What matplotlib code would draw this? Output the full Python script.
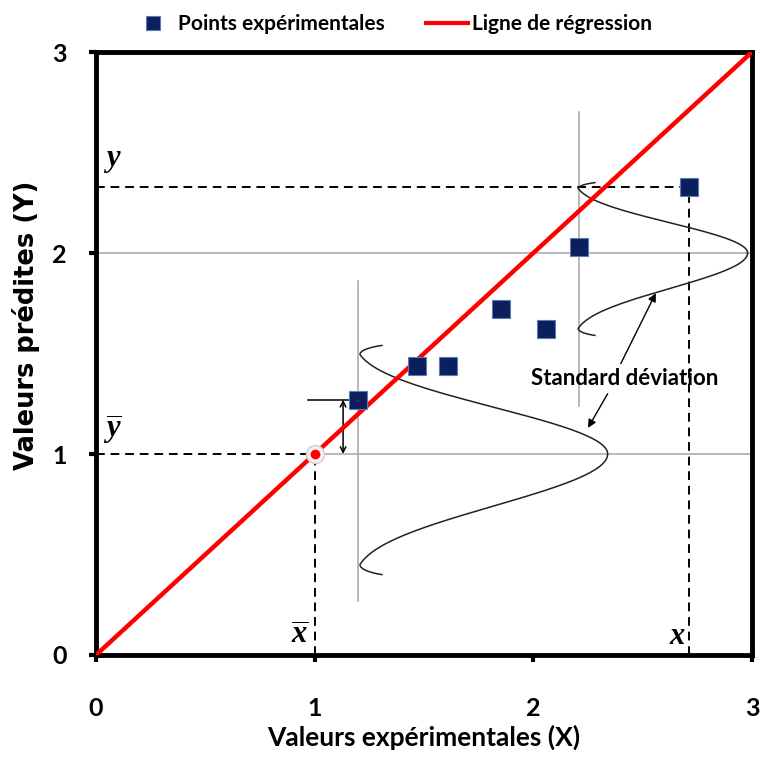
import numpy as np
import matplotlib
matplotlib.use("Agg")
import matplotlib.pyplot as plt
from matplotlib.lines import Line2D

plt.rcParams['font.family'] = ['Lato', 'DejaVu Sans']
plt.rcParams['font.weight'] = 'bold'
plt.rcParams['mathtext.fontset'] = 'custom'
plt.rcParams['mathtext.it'] = 'Liberation Serif:italic:bold'
plt.rcParams['mathtext.rm'] = 'Liberation Serif:bold'

# ---- data ----
exp_x = [1.20, 1.47, 1.61, 1.85, 2.06, 2.21, 2.71]
exp_y = [1.27, 1.44, 1.44, 1.72, 1.62, 2.03, 2.33]
reg_x = [0, 3]
reg_y = [0, 3]
mean_x, mean_y = 1.0, 1.0
pt_x, pt_y = 2.71, 2.33
xticks = [0, 1, 2, 3]
yticks = [0, 1, 2, 3]

# schematic distribution curves: base x, peak x, centre y, top half-height, bottom half-height, hook
bell1 = dict(base=1.185, peak=2.34, yc=1.0, htop=0.54, hbot=0.60, hook=0.12)
bell2 = dict(base=2.19, peak=2.98, yc=2.0, htop=0.35, hbot=0.41, hook=0.09)
vline1 = (1.20, 0.27, 1.86)
vline2 = (2.21, 1.24, 2.70)

fig = plt.figure(figsize=(7.67, 7.58), dpi=100)
ax = fig.add_axes([96/767, 1-655/758, 656/767, 603/758])
ax.set_xlim(0, 3)
ax.set_ylim(0, 3)

grey = '#a6a6a6'
ax.plot([mean_x, 3], [1, 1], color=grey, lw=1.1, zorder=1)
ax.plot([0, 3], [2, 2], color=grey, lw=1.1, zorder=1)
for vx, y0, y1 in (vline1, vline2):
    ax.plot([vx, vx], [y0, y1], color=grey, lw=1.1, zorder=1)

dkw = dict(color='black', lw=1.4, dashes=(4.5, 3), zorder=2)
ax.plot([0, mean_x], [mean_y, mean_y], **dkw)
ax.plot([mean_x, mean_x], [0, mean_y], **dkw)
ax.plot([0, pt_x], [pt_y, pt_y], **dkw)
ax.plot([pt_x, pt_x], [0, pt_y], **dkw)

def bell(base, peak, yc, htop, hbot, hook):
    t = np.linspace(-1, 1, 600)
    th = 1.4
    f = np.sin(th * np.abs(t)) / np.sin(th)
    h = np.where(t < 0, htop, hbot)
    y = yc - np.sign(t) * h * f
    t0 = 0.8
    hk = np.clip((np.abs(t) - t0) / (1 - t0), 0, None) ** 1.5
    x = base + (peak - base) * np.exp(-0.5 * (t / 0.286) ** 2) + hook * hk
    return x, y

for b in (bell1, bell2):
    bx, by = bell(**b)
    ax.plot(bx, by, color='#222222', lw=1.1, zorder=3)

ax.plot(reg_x, reg_y, color='#ff0000', lw=3.2, zorder=4, solid_capstyle='butt')

ax.plot([mean_x], [mean_y], 'o', ms=13, mfc='#f4eeee', mec='#d9c9c9', mew=1, zorder=5)
ax.plot([mean_x], [mean_y], 'o', ms=6, mfc='#ff0000', mec='#ff0000', zorder=6)

ax.plot(exp_x, exp_y, 's', ms=12.5, mfc='#0a1f5c', mec='#5b7bb5', mew=0.8, zorder=7, ls='none')

ax.plot([0.97, 1.17], [1.27, 1.27], color='black', lw=1.1, zorder=3)
ax.annotate('', xy=(1.13, 1.0), xytext=(1.13, 1.27),
            arrowprops=dict(arrowstyle='<->', color='black', lw=1.1, shrinkA=0, shrinkB=0), zorder=3)

ax.text(2.42, 1.375, 'Standard déviation', ha='center', va='center', fontsize=16,
        fontweight='bold', zorder=8)
ax.annotate('', xy=(2.56, 1.80), xytext=(2.40, 1.45),
            arrowprops=dict(arrowstyle='-|>', color='black', lw=1.0, mutation_scale=12, shrinkA=0, shrinkB=0))
ax.annotate('', xy=(2.25, 1.13), xytext=(2.34, 1.30),
            arrowprops=dict(arrowstyle='-|>', color='black', lw=1.0, mutation_scale=12, shrinkA=0, shrinkB=0))

ax.text(0.03, 2.46, r'$y$', fontsize=22, ha='left', va='center')
ax.text(0.03, 1.12, r'$\overline{y}$', fontsize=22, ha='left', va='center')
ax.text(0.93, 0.10, r'$\overline{x}$', fontsize=22, ha='center', va='center')
ax.text(2.66, 0.10, r'$x$', fontsize=22, ha='center', va='center')

for s in ax.spines.values():
    s.set_linewidth(3.5)
ax.set_xticks(xticks)
ax.set_yticks(yticks)
ax.tick_params(axis='both', direction='out', length=5, width=3, labelsize=18)
ax.tick_params(axis='x', pad=25)
ax.tick_params(axis='y', pad=16)
for lab in ax.get_xticklabels() + ax.get_yticklabels():
    lab.set_fontweight('bold')

ax.set_xlabel('Valeurs expérimentales (X)', fontsize=19, fontweight='bold')
ax.set_ylabel('Valeurs prédites (Y)', fontsize=18.5, fontweight='bold',
              family=['DejaVu Sans'])
ax.xaxis.set_label_coords(0.5, -0.115)
ax.yaxis.set_label_coords(-0.086, 0.546)

handles = [Line2D([], [], marker='s', ls='none', ms=10, mfc='#0a1f5c', mec='#5b7bb5', mew=0.8),
           Line2D([], [], color='#ff0000', lw=3)]
fig.legend(handles, ['Points expérimentales', 'Ligne de régression'], loc='center',
           bbox_to_anchor=(0.511, 1 - 24/758), ncol=2, frameon=False,
           handlelength=2.0, handletextpad=0.2, columnspacing=2.0,
           prop=dict(weight='bold', size=15))

fig.savefig('out.png', dpi=100)
